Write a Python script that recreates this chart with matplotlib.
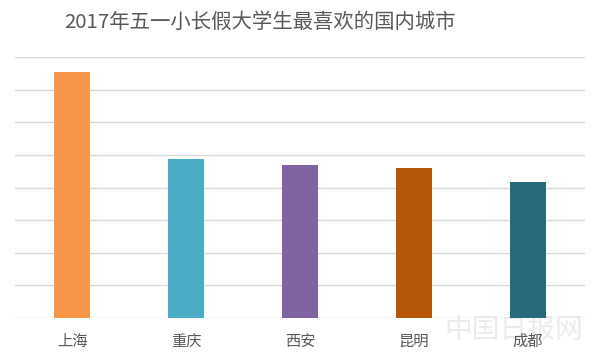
import matplotlib
matplotlib.use("Agg")
import matplotlib.pyplot as plt

plt.rcParams['font.family'] = ['Noto Sans CJK SC', 'DejaVu Sans']

# Data (in gridline units)
cities = ["上海", "重庆", "西安", "昆明", "成都"]
values = [7.55, 4.88, 4.69, 4.60, 4.17]
colors = ["#F79646", "#4BACC6", "#8064A2", "#B65708", "#276A7C"]
title = "2017年五一小长假大学生最喜欢的国内城市"

figure = plt.figure(figsize=(6.0, 3.57), dpi=100)

# faint watermark bottom right, drawn beneath the chart
figure.text(0.857, 0.076, "中国日报网", ha="center", va="center",
            fontsize=20, color="#EBEBEB", zorder=-1)

axes = figure.add_axes([0.025, 0.1092, 0.95, 0.7311])
axes.set_facecolor("none")

axes.bar(range(len(cities)), values, width=0.32, color=colors, zorder=3)

axes.set_xlim(-0.5, len(cities) - 0.5)
axes.set_ylim(0, 8)
axes.set_yticks(range(0, 9))
axes.yaxis.grid(True, color="#D9D9D9", linewidth=1.0, zorder=0)
axes.tick_params(axis="y", left=False, labelleft=False)
axes.tick_params(axis="x", bottom=False, labelsize=11, labelcolor="#595959", pad=7)
axes.set_xticks(range(len(cities)))
axes.set_xticklabels(cities)
for side in ["top", "right", "left", "bottom"]:
    axes.spines[side].set_visible(False)

figure.text(0.433, 0.938, title, ha="center", va="center",
            fontsize=14.7, color="#595959")

plt.savefig("out.png", dpi=100)
